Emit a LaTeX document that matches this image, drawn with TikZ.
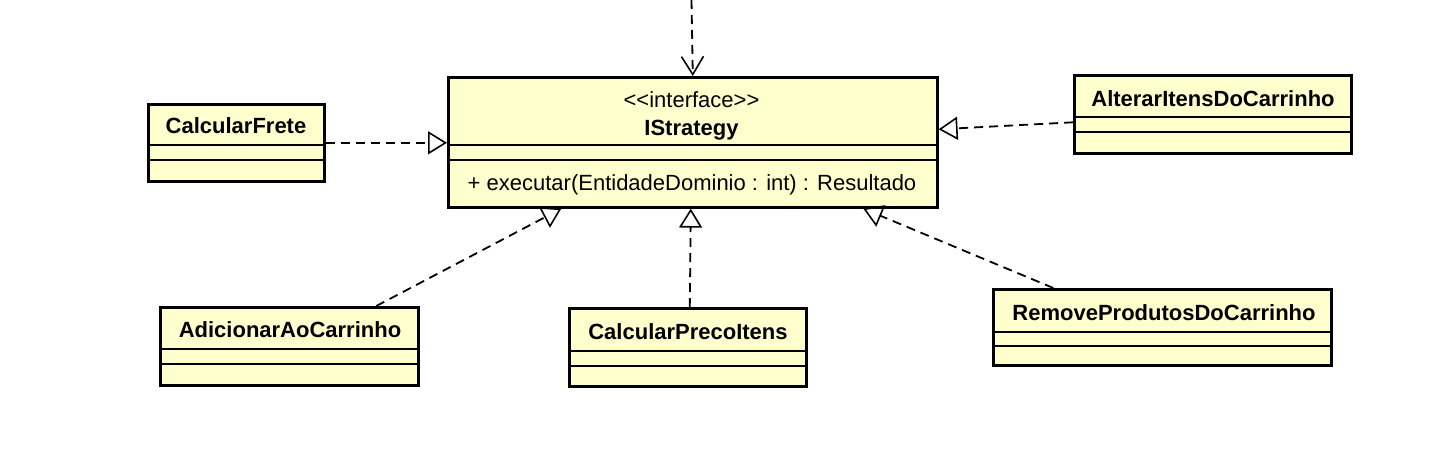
\documentclass[tikz,border=0pt]{standalone}
\usepackage{fontspec}
\setmainfont{Liberation Sans}
\usetikzlibrary{arrows.meta}
\definecolor{clsfill}{RGB}{255,255,206}
\begin{document}
\begin{tikzpicture}[x=1pt,y=-1pt,
  clsbox/.style={draw=black, line width=2.6pt, fill=clsfill, rectangle, inner sep=0pt, anchor=north west},
  divline/.style={line width=1.6pt},
  nm/.style={font=\fontsize{22}{26}\selectfont\bfseries, inner sep=0pt, anchor=base},
  txt/.style={font=\fontsize{22}{26}\selectfont, inner sep=0pt, anchor=base},
  realize/.style={line width=1.8pt, dash pattern=on 9pt off 6pt,
    -{Triangle[open, length=19pt, width=23pt, line width=1.6pt]}},
  dep/.style={line width=1.8pt, dash pattern=on 9pt off 6pt,
    -{Straight Barb[length=18pt, width=22pt, line width=1.6pt]}}]
\useasboundingbox (0,0) rectangle (1429,451);

% IStrategy
\node[clsbox, minimum width=489pt, minimum height=130pt] (is) at (447,76) {};
\draw[divline] ([yshift=-69pt]is.north west) -- ([yshift=-69pt]is.north east);
\draw[divline] ([yshift=-84pt]is.north west) -- ([yshift=-84pt]is.north east);
\node[txt] (isst) at (691.5,107) {<\kern0pt<interface>\kern0pt>};
\node[nm] (isnm) at (691.5,135) {IStrategy};
\node[txt] (isop) at (692,190) {+ executar(EntidadeDominio : int) : Resultado};

% CalcularFrete
\node[clsbox, minimum width=176pt, minimum height=77pt] (cf) at (147,103) {};
\draw[divline] ([yshift=-42pt]cf.north west) -- ([yshift=-42pt]cf.north east);
\draw[divline] ([yshift=-57pt]cf.north west) -- ([yshift=-57pt]cf.north east);
\node[nm] (cfnm) at (236,133) {CalcularFrete};

% AlterarItensDoCarrinho
\node[clsbox, minimum width=277pt, minimum height=78pt] (ai) at (1073,74) {};
\draw[divline] ([yshift=-43pt]ai.north west) -- ([yshift=-43pt]ai.north east);
\draw[divline] ([yshift=-58pt]ai.north west) -- ([yshift=-58pt]ai.north east);
\node[nm] (ainm) at (1213,106) {AlterarItensDoCarrinho};

% AdicionarAoCarrinho
\node[clsbox, minimum width=258pt, minimum height=78pt] (ad) at (159,306) {};
\draw[divline] ([yshift=-43pt]ad.north west) -- ([yshift=-43pt]ad.north east);
\draw[divline] ([yshift=-58pt]ad.north west) -- ([yshift=-58pt]ad.north east);
\node[nm] (adnm) at (290,337) {AdicionarAoCarrinho};

% CalcularPrecoItens
\node[clsbox, minimum width=237pt, minimum height=78pt] (cp) at (568,307) {};
\draw[divline] ([yshift=-44pt]cp.north west) -- ([yshift=-44pt]cp.north east);
\draw[divline] ([yshift=-59pt]cp.north west) -- ([yshift=-59pt]cp.north east);
\node[nm] (cpnm) at (688,339) {CalcularPrecoItens};

% RemoveProdutosDoCarrinho
\node[clsbox, minimum width=338pt, minimum height=76pt] (rp) at (992,288) {};
\draw[divline] ([yshift=-44pt]rp.north west) -- ([yshift=-44pt]rp.north east);
\draw[divline] ([yshift=-58pt]rp.north west) -- ([yshift=-58pt]rp.north east);
\node[nm] (rpnm) at (1164,320) {RemoveProdutosDoCarrinho};

% connectors
\coordinate (topend) at (691.5,0);
\draw[dep] (topend) -- (is.north);
\draw[realize] (cf.east) -- (cf.east -| is.west);
\draw[realize] ([yshift=-8pt]ai.west) -- ([yshift=13pt]is.east);
\draw[realize] ([xshift=87pt]ad.north) -- ([xshift=-131.5pt]is.south);
\draw[realize] ([xshift=2pt]cp.north) -- ([xshift=-2pt]is.south);
\draw[realize] ([xshift=-109pt]rp.north) -- ([xshift=170.5pt]is.south);
\end{tikzpicture}
\end{document}
